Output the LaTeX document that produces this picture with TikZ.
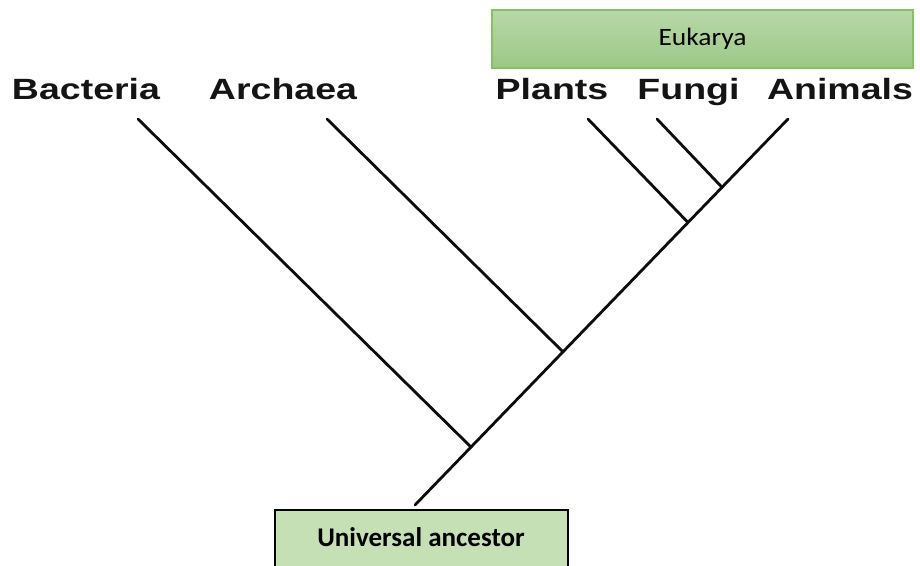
\documentclass[tikz,border=0pt]{standalone}
\usepackage{fontspec}
\usetikzlibrary{calc}
\setmainfont{Liberation Sans}
\newfontfamily\calib{Carlito}
\definecolor{ualight}{HTML}{C5E0B4}
\definecolor{eutop}{HTML}{B8D8A8}
\definecolor{eubot}{HTML}{9CC886}
\definecolor{euedge}{HTML}{86C264}
\tikzset{
  taxon/.style={anchor=base, inner sep=0pt, font=\fontsize{29.3}{30}\selectfont\bfseries, text=black!92},
  branch/.style={line width=2.8pt, line cap=round, black!95},
  eubox/.style={draw=euedge, line width=1.8pt, top color=eutop, bottom color=eubot, minimum width=421pt, minimum height=58pt, inner sep=0pt, font=\calib\fontsize{25}{26}\selectfont},
  uabox/.style={draw=black, line width=2pt, fill=ualight, minimum width=293pt, minimum height=70pt, inner sep=0pt}
}
\begin{document}
\begin{tikzpicture}[x=1pt, y=-1pt]
\clip (0,0) rectangle (920,565);
\fill[white] (0,0) rectangle (920,565);
% boxes
\node[eubox] (euk) at (702.5,39) {\scalebox{1.1}[1]{Eukarya}};
\node[uabox, anchor=north west] (ua) at (274,509) {};
\node[anchor=base, inner sep=0pt, font=\calib\bfseries\fontsize{27}{28}\selectfont] (ualabel) at (421,546) {Universal ancestor};
% taxa labels
\node[taxon] (bac) at (86,99) {\scalebox{1.28}[1]{Bacteria}};
\node[taxon] (arc) at (283,99) {\scalebox{1.28}[1]{Archaea}};
\node[taxon] (pla) at (552,99) {\scalebox{1.28}[1]{Plants}};
\node[taxon] (fun) at (688.5,99) {\scalebox{1.28}[1]{Fungi}};
\node[taxon] (ani) at (840,99) {\scalebox{1.28}[1]{Animals}};
% tips and joins
\coordinate (tB) at (138,119);
\coordinate (tA) at (327,119);
\coordinate (tP) at (588,119);
\coordinate (tF) at (657,119);
\coordinate (tN) at (788,119);
\coordinate (root) at (415,505);
\coordinate (jB) at ($(root)!56/373!(tN)$);
\coordinate (jA) at ($(root)!148/373!(tN)$);
\coordinate (jP) at ($(root)!273/373!(tN)$);
\coordinate (jF) at ($(root)!307/373!(tN)$);
% branches
\draw[branch] (root) -- (tN);
\draw[branch] (tB) -- (jB);
\draw[branch] (tA) -- (jA);
\draw[branch] (tP) -- (jP);
\draw[branch] (tF) -- (jF);
\end{tikzpicture}
\end{document}
